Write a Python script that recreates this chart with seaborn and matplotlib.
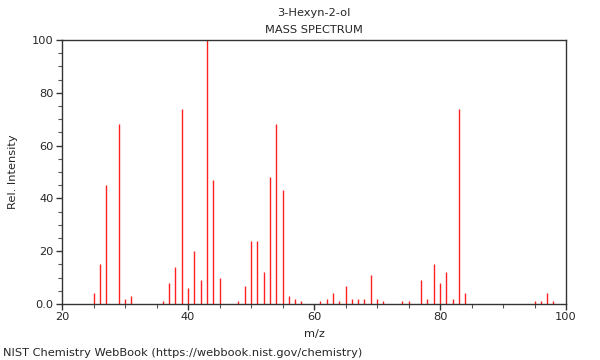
import matplotlib
matplotlib.use("Agg")
import matplotlib.pyplot as plt
import seaborn as sns
import pandas as pd
from matplotlib.ticker import MultipleLocator, FixedFormatter, FixedLocator

title = "3-Hexyn-2-ol"
subtitle = "MASS SPECTRUM"
mz = [25, 26, 27, 29, 30, 31, 36, 37, 38, 39, 40, 41, 42, 43, 44, 45, 48, 49,
      50, 51, 52, 53, 54, 55, 56, 57, 58, 61, 62, 63, 64, 65, 66, 67, 68, 69,
      70, 71, 74, 75, 77, 78, 79, 80, 81, 82, 83, 84, 95, 96, 97, 98]
intensity = [4, 15, 45, 68, 2, 3, 1, 8, 14, 74, 6, 20, 9, 100, 47, 10, 1, 7,
             24, 24, 12, 48, 68, 43, 3, 2, 1, 1, 2, 4, 1, 7, 2, 2, 2, 11,
             2, 1, 1, 1, 9, 2, 15, 8, 12, 2, 74, 4, 1, 1, 4, 1]
xticks = [20, 40, 60, 80, 100]
yticks = [0, 20, 40, 60, 80, 100]
ytick_labels = ["0.0", "20", "40", "60", "80", "100"]

df = pd.DataFrame({"mz": mz, "intensity": intensity})

sns.set_theme(style="ticks")
plt.rcParams["font.family"] = ["DejaVu Sans"]

fig = plt.figure(figsize=(6, 3.6), dpi=100)
ax = fig.add_axes([62 / 600, 1 - 304 / 360, 504 / 600, 264 / 360])

ax.vlines(df["mz"], 0, df["intensity"], color="#ff2020", lw=1)
sns.despine(ax=ax, top=False, right=False)

ax.set_xlim(20, 100)
ax.set_ylim(0, 100)
ax.xaxis.set_major_locator(FixedLocator(xticks))
ax.xaxis.set_minor_locator(MultipleLocator(5))
ax.yaxis.set_major_locator(FixedLocator(yticks))
ax.yaxis.set_major_formatter(FixedFormatter(ytick_labels))
ax.yaxis.set_minor_locator(MultipleLocator(5))
ax.tick_params(axis="both", which="major", labelsize=8.2, length=4,
               direction="out", color="#333333", width=1, pad=2)
ax.tick_params(axis="both", which="minor", length=3, direction="out",
               color="#555555", width=0.8)
for s in ax.spines.values():
    s.set_color("#333333")
    s.set_linewidth(1)

ax.set_xlabel("m/z", fontsize=8.2, labelpad=5)
ax.set_ylabel("Rel. Intensity", fontsize=8.2, labelpad=10)

fig.text(314 / 600, 1 - 13 / 360, title, ha="center", va="center", fontsize=8.2)
fig.text(314 / 600, 1 - 30 / 360, subtitle, ha="center", va="center", fontsize=8.2)
fig.text(3 / 600, 1 - 353 / 360,
         "NIST Chemistry WebBook (https://webbook.nist.gov/chemistry)",
         ha="left", va="center", fontsize=8.2)

fig.savefig("out.png", dpi=100)
